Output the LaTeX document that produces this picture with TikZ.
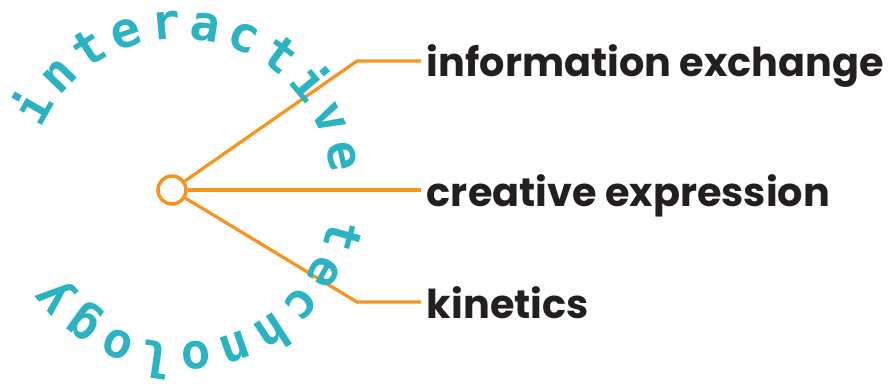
\documentclass[tikz,border=0pt]{standalone}
\usepackage{fontspec}
\setsansfont{Poppins}
\newfontfamily\ringfont{DejaVu Sans Mono}
\usetikzlibrary{positioning}
\definecolor{branchorange}{HTML}{F7941D}
\definecolor{ringteal}{HTML}{2BB3C1}
\definecolor{labeldark}{HTML}{231F20}

\begin{document}
\begin{tikzpicture}[
	branch/.style={draw=branchorange, line width=2.3pt},
	leaf/.style={anchor=west, inner xsep=4pt, inner ysep=0pt,
		text height=0.8cm, text depth=0pt, text=labeldark,
		font=\sffamily\bfseries\fontsize{28.3}{30}\selectfont},
	ringletter/.style={anchor=base, inner sep=0pt, text=ringteal,
		font=\ringfont\bfseries\fontsize{35}{37}\selectfont}
]
					\useasboundingbox (0,0) rectangle (22.3,9.575);

					\node[circle, draw=branchorange, line width=2.5pt,
						minimum width=0.7cm, inner sep=0pt] (hub) at (4.3,4.825) {};

					\coordinate (ring) at (4.5,4.8);
					\coordinate (upper) at (8.925,8.05);
					\coordinate (lower) at (8.925,2.025);

					\node[leaf] (info) at (10.525,8.05) {information exchange};
					\node[leaf] (creative) at (10.525,4.825) {creative expression};
					\node[leaf] (kinetics) at (10.525,2.025) {kinetics};

					\draw[branch] (hub) -- (upper) -- (info.west);
					\draw[branch] (hub) -- (creative.west);
					\draw[branch] (hub) -- (lower) -- (kinetics.west);

					\foreach \ch [count=\k from 0] in {i,n,t,e,r,a,c,t,i,v,e,{ },t,e,c,h,n,o,l,o,g,y} {
						\pgfmathsetmacro{\ang}{150.2-13.8*\k}
						\node[ringletter, rotate=\ang-90] (ch\k) at ([shift={(\ang:3.8)}]ring) {\ch};
					}
				\end{tikzpicture}
\end{document}
